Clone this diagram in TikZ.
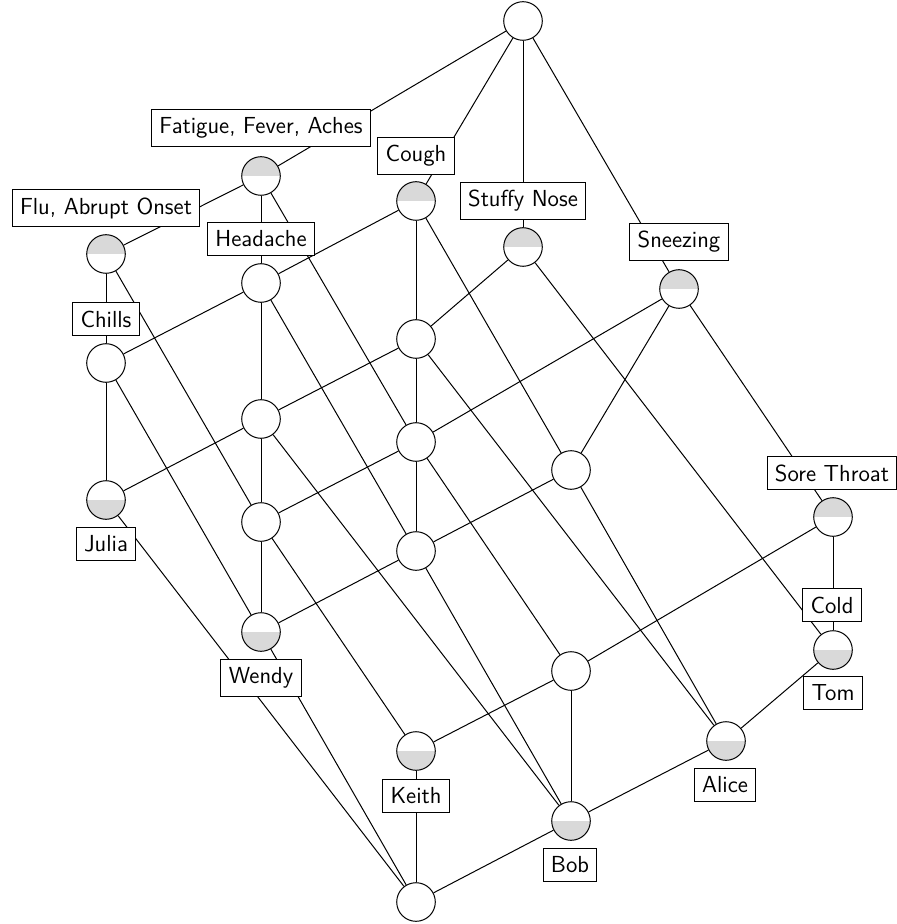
\documentclass[tikz,border=0pt]{standalone}
\usetikzlibrary{backgrounds}
\begin{document}
\begin{tikzpicture}[x=0.5pt,y=-0.5pt,
  con/.style={circle,draw,line width=0.5pt,minimum size=19.3pt,inner sep=0pt,fill=white},
  attr/.style={con,path picture={\fill[black!15] (path picture bounding box.north west) rectangle (path picture bounding box.east);}},
  obj/.style={con,path picture={\fill[black!15] (path picture bounding box.west) rectangle (path picture bounding box.south east);}},
  lab/.style={draw,fill=white,font=\sffamily\fontsize{11.6}{14}\selectfont,inner xsep=3.9pt,inner ysep=4pt,line width=0.5pt},
  conn/.style={line width=0.5pt}]
\useasboundingbox (0,0) rectangle (897,924);
% concepts
\node[con]  (T)     at (523,21)  {};
\node[attr] (FFA)   at (261,176) {};
\node[attr] (Flu)   at (106,254) {};
\node[attr] (Cough) at (416,201) {};
\node[attr] (Stuffy) at (523,247) {};
\node[attr] (Sneez) at (679,289) {};
\node[con]  (H)     at (261,283) {};
\node[con]  (C)     at (106,363) {};
\node[con]  (N1)    at (416,339) {};
\node[con]  (N2)    at (261,419) {};
\node[con]  (N3)    at (416,442) {};
\node[con]  (N4)    at (571,470) {};
\node[obj]  (Julia) at (106,500) {};
\node[con]  (N5)    at (261,522) {};
\node[con]  (N6)    at (416,551) {};
\node[attr] (Sore)  at (833,517) {};
\node[obj]  (Wendy) at (261,632) {};
\node[con]  (N7)    at (571,671) {};
\node[obj]  (Tom)   at (833,650) {};
\node[obj]  (Keith) at (416,751) {};
\node[obj]  (Alice) at (726,741) {};
\node[obj]  (Bob)   at (571,821) {};
\node[con]  (Bot)   at (416,902) {};
% edges
\begin{pgfonlayer}{background}
\draw[conn] (T) -- (FFA);
\draw[conn] (T) -- (Cough);
\draw[conn] (T) -- (Stuffy);
\draw[conn] (T) -- (Sneez);
\draw[conn] (FFA) -- (Flu);
\draw[conn] (FFA) -- (H);
\draw[conn] (FFA) -- (N3);
\draw[conn] (Flu) -- (C);
\draw[conn] (Flu) -- (N5);
\draw[conn] (H) -- (Cough);
\draw[conn] (H) -- (C);
\draw[conn] (H) -- (N2);
\draw[conn] (H) -- (N6);
\draw[conn] (Cough) -- (N1);
\draw[conn] (Cough) -- (N4);
\draw[conn] (Stuffy) -- (N1);
\draw[conn] (Stuffy) -- (Tom);
\draw[conn] (Sneez) -- (N3);
\draw[conn] (Sneez) -- (N4);
\draw[conn] (Sneez) -- (Sore);
\draw[conn] (C) -- (Julia);
\draw[conn] (C) -- (Wendy);
\draw[conn] (N1) -- (N2);
\draw[conn] (N1) -- (N3);
\draw[conn] (N1) -- (Alice);
\draw[conn] (N2) -- (Julia);
\draw[conn] (N2) -- (N5);
\draw[conn] (N2) -- (Bob);
\draw[conn] (N3) -- (N5);
\draw[conn] (N3) -- (N6);
\draw[conn] (N3) -- (N7);
\draw[conn] (N4) -- (N6);
\draw[conn] (N4) -- (Alice);
\draw[conn] (Julia) -- (Bot);
\draw[conn] (N5) -- (Wendy);
\draw[conn] (N5) -- (Keith);
\draw[conn] (N6) -- (Wendy);
\draw[conn] (N6) -- (Bob);
\draw[conn] (Sore) -- (Tom);
\draw[conn] (Sore) -- (N7);
\draw[conn] (Wendy) -- (Bot);
\draw[conn] (N7) -- (Keith);
\draw[conn] (N7) -- (Bob);
\draw[conn] (Tom) -- (Alice);
\draw[conn] (Keith) -- (Bot);
\draw[conn] (Alice) -- (Bob);
\draw[conn] (Bob) -- (Bot);
\end{pgfonlayer}
% labels
\node[lab] (lFFA)   at (261,128) {Fatigue, Fever, Aches};
\node[lab] (lFlu)   at (106,208) {Flu, Abrupt Onset};
\node[lab] (lHead)  at (261,239) {Headache};
\node[lab] (lCough) at (416,156) {Cough};
\node[lab] (lStuffy) at (523,201) {Stuffy Nose};
\node[lab] (lSneez) at (679,242) {Sneezing};
\node[lab] (lChills) at (106,319) {Chills};
\node[lab] (lSore)  at (832,473) {Sore Throat};
\node[lab] (lCold)  at (832,605) {Cold};
\node[lab] (lJulia) at (106,544) {Julia};
\node[lab] (lWendy) at (261,678) {Wendy};
\node[lab] (lKeith) at (416,796) {Keith};
\node[lab] (lTom)   at (833,693) {Tom};
\node[lab] (lAlice) at (725,785) {Alice};
\node[lab] (lBob)   at (570,865) {Bob};
\end{tikzpicture}
\end{document}
